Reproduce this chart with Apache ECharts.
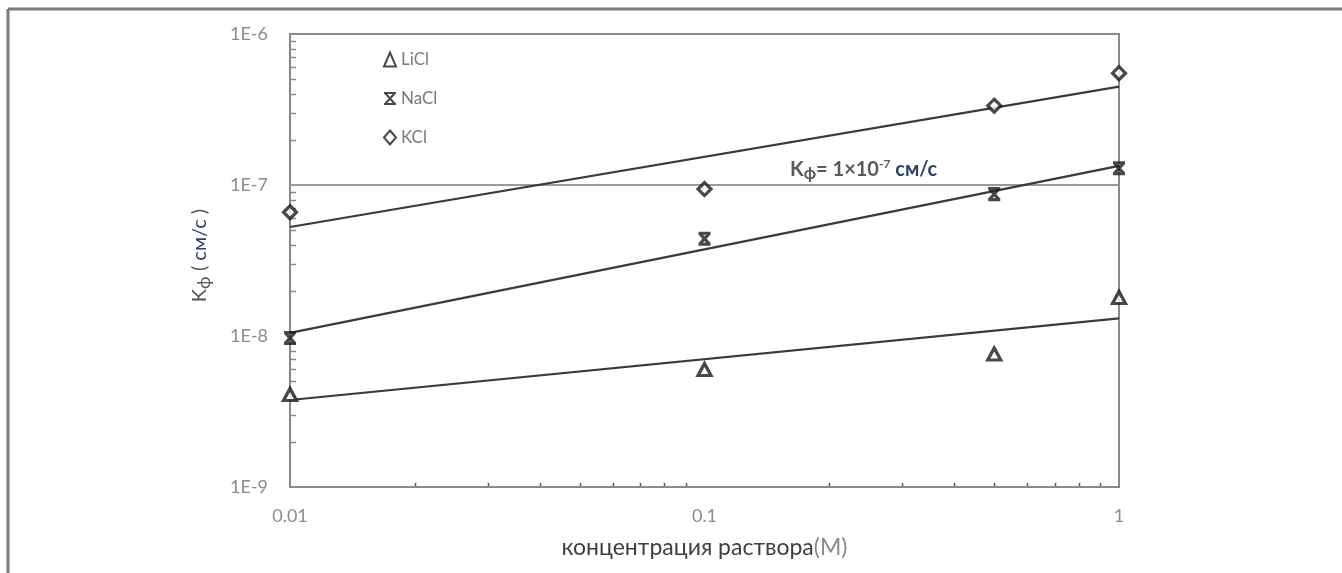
<!DOCTYPE html>
<html>
<head>
<meta charset="utf-8">
<script src="https://cdn.jsdelivr.net/npm/echarts@6/dist/echarts.min.js"></script>
<style>
  html, body { margin: 0; padding: 0; background: #fff; }
  #chart { width: 1342px; height: 573px; }
</style>
</head>
<body>
<div id="chart"></div>
<script>
// Filtration coefficient vs. solution concentration (log–log)
const concentration = [0.01, 0.1, 0.5, 1];          // M
const liclK = [4.1e-9, 6.0e-9, 7.6e-9, 1.8e-8];     // cm/s
const naclK = [9.7e-9, 4.4e-8, 8.7e-8, 1.29e-7];
const kclK  = [6.6e-8, 9.4e-8, 3.35e-7, 5.5e-7];

// Power-law trend lines, evaluated at the ends of the concentration range
const fitX    = [0.01, 1];
const liclFit = [3.77e-9, 1.31e-8];
const naclFit = [1.05e-8, 1.34e-7];
const kclFit  = [5.27e-8, 4.48e-7];

// Reference level Kф = 1×10⁻⁷ cm/s
const thresholdK = 1e-7;

const saltNames = ['LiCl', 'NaCl', 'KCl'];
const xTickLabels = ['0.01', '0.1', '1'];
const yDecades = [-9, -8, -7, -6];
const minorMultipliers = [2, 3, 4, 5, 6, 7, 8, 9];

const FONT = 'Lato, "Open Sans", sans-serif';
const MARK = '#1a1a1a';
const FIT = '#3a3a3a';
const AXIS = '#8a8a8a';
const LABEL = '#8c8c8c';

const pairs = (xs, ys) => xs.map((x, i) => [x, ys[i]]);

const chart = echarts.init(document.getElementById('chart'), null, { renderer: 'canvas' });

const hourglass = 'path://M0,0L12,0M0,11L12,11M1,0L11,11M11,0L1,11';

function scatter(name, values, symbol, size, fill) {
  return {
    name, type: 'scatter', data: pairs(concentration, values),
    symbol, symbolSize: size, z: 5,
    itemStyle: { color: fill, borderColor: MARK, borderWidth: 3.2 }
  };
}
function fitLine(name, values) {
  return {
    name, type: 'line', data: pairs(fitX, values), symbol: 'none', silent: true,
    lineStyle: { color: FIT, width: 2.2 }, z: 3
  };
}

chart.setOption({
  animation: false,
  backgroundColor: '#fff',
  textStyle: { fontFamily: FONT },
  grid: { left: 290, right: 223, top: 34, bottom: 86, show: true, borderColor: AXIS, borderWidth: 2, containLabel: false },
  legend: {
    data: saltNames, orient: 'vertical', left: 378, top: 46, itemGap: 22,
    itemWidth: 12, itemHeight: 14,
    textStyle: { color: '#7a7a7a', fontSize: 17, fontFamily: FONT }
  },
  xAxis: {
    type: 'log', logBase: 10, min: 0.01, max: 1,
    axisLine: { lineStyle: { color: AXIS, width: 2 } },
    axisTick: { show: false },
    splitLine: { show: false },
    axisLabel: {
      color: LABEL, fontSize: 18, margin: 20, fontFamily: FONT,
      formatter: v => xTickLabels[Math.round(Math.log10(v)) + 2]
    },
    name: 'концентрация раствора{m|(М)}',
    nameLocation: 'middle', nameGap: 49,
    nameTextStyle: {
      color: '#404040', fontSize: 23, fontFamily: FONT,
      rich: { m: { color: '#8a8a8a', fontSize: 23, fontFamily: FONT } }
    }
  },
  yAxis: {
    type: 'log', logBase: 10, min: 1e-9, max: 1e-6,
    axisLine: { lineStyle: { color: AXIS, width: 2 } },
    axisTick: { show: false },
    splitLine: { show: false },
    axisLabel: {
      color: LABEL, fontSize: 18, margin: 22, fontFamily: FONT,
      formatter: v => '1E' + Math.round(Math.log10(v))
    },
    name: 'K{sub|ф} ( {u|см/с} )',
    nameLocation: 'middle', nameGap: 80, nameRotate: 90,
    nameTextStyle: {
      color: '#555', fontSize: 20, fontFamily: FONT, padding: [0, 0, 0, 10],
      rich: {
        sub: { color: '#555', fontSize: 18, fontFamily: FONT, padding: [0, 0, -9, 0] },
        u: { color: '#2f4266', fontSize: 20, fontFamily: FONT }
      }
    }
  },
  series: [
    scatter('LiCl', liclK, 'triangle', [13, 12], '#fff'),
    scatter('NaCl', naclK, hourglass, [12, 11], MARK),
    scatter('KCl', kclK, 'diamond', [13, 13], '#fff'),
    fitLine('LiCl тренд', liclFit),
    fitLine('NaCl тренд', naclFit),
    fitLine('KCl тренд', kclFit),
    {
      name: 'Kф', type: 'line', data: pairs(fitX, [thresholdK, thresholdK]),
      symbol: 'none', silent: true, z: 2,
      lineStyle: { color: '#9a9a9a', width: 2 },
      markPoint: {
        symbol: 'rect', symbolSize: 0, silent: true,
        data: [{ coord: [0.242, thresholdK] }],
        label: {
          show: true, position: 'top', distance: 4,
          formatter: 'K{sub|ф}= 1×10{sup|-7} {u|см/с}',
          color: '#5a5a5a', fontSize: 20, fontFamily: FONT, fontWeight: 'bold',
          rich: {
            sub: { color: '#5a5a5a', fontSize: 17, fontFamily: FONT, padding: [0, 0, -9, 0] },
            sup: { color: '#5a5a5a', fontSize: 12, fontFamily: FONT, fontWeight: 'bold', padding: [0, 0, 11, 0] },
            u: { color: '#2f4266', fontSize: 20, fontFamily: FONT }
          }
        }
      }
    }
  ]
});

// minor ticks of both log axes (2…9 within each decade), drawn inside the plot
function decorate() {
  const els = [];
  const x0 = chart.convertToPixel({ xAxisIndex: 0 }, 0.01);
  const y0 = chart.convertToPixel({ yAxisIndex: 0 }, 1e-9);
  yDecades.slice(0, -1).forEach(d => {
    minorMultipliers.forEach(m => {
      const y = Math.round(chart.convertToPixel({ yAxisIndex: 0 }, m * Math.pow(10, d))) + 0.5;
      els.push({ type: 'line', shape: { x1: x0, y1: y, x2: x0 + 6, y2: y }, style: { stroke: AXIS, lineWidth: 1.5 }, silent: true });
    });
  });
  [-2, -1].forEach(d => {
    minorMultipliers.forEach(m => {
      const x = Math.round(chart.convertToPixel({ xAxisIndex: 0 }, m * Math.pow(10, d))) + 0.5;
      els.push({ type: 'line', shape: { x1: x, y1: y0, x2: x, y2: y0 - 4 }, style: { stroke: '#555', lineWidth: 1.5 }, silent: true });
    });
  });
  // outer frame (top and left edges)
  els.push({ type: 'line', shape: { x1: 8, y1: 9, x2: 1342, y2: 9 }, style: { stroke: '#7a7a7a', lineWidth: 3 }, silent: true });
  els.push({ type: 'line', shape: { x1: 8, y1: 9, x2: 8, y2: 573 }, style: { stroke: '#7a7a7a', lineWidth: 3 }, silent: true });
  chart.setOption({ graphic: els });
}
decorate();
</script>
</body>
</html>
